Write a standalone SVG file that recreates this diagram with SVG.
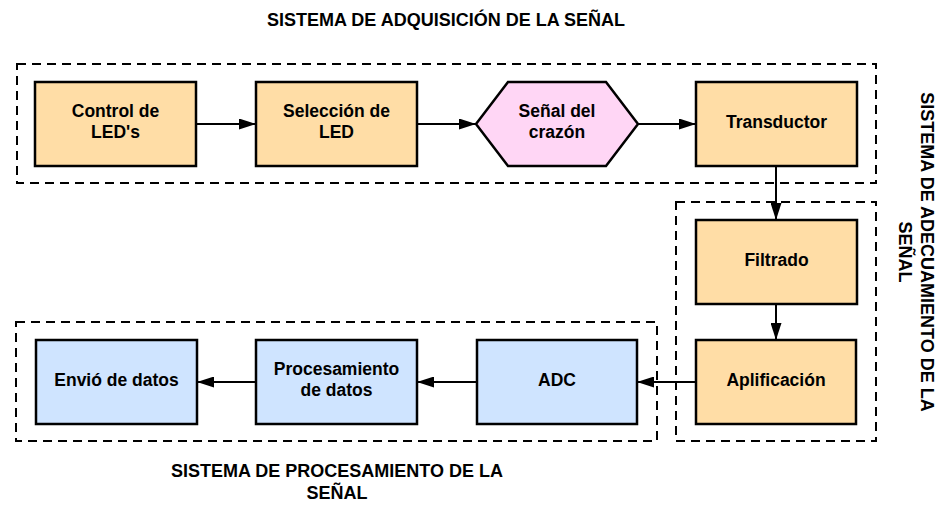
<svg xmlns="http://www.w3.org/2000/svg" width="951" height="515" viewBox="0 0 951 515">
<style>
  .grp{fill:none;stroke:#000;stroke-width:2;stroke-dasharray:9 6;}
  .box{stroke:#000;stroke-width:2.5;}
  .org{fill:#FFDDA6;}
  .blu{fill:#CFE4FF;}
  .pnk{fill:#FFD6F5;}
  text{font-family:"Liberation Sans",Arial,sans-serif;font-weight:bold;fill:#000;}
  .t{font-size:17.5px;text-anchor:middle;}
  .h{font-size:18px;text-anchor:middle;}
  .c{fill:none;stroke:#000;stroke-width:2;}
</style>
<defs>
  <marker id="ah" viewBox="0 0 17 11" refX="17" refY="5.5" markerWidth="17" markerHeight="11" markerUnits="userSpaceOnUse" orient="auto">
    <path d="M0,0 L17,5.5 L0,11 Z" fill="#000"/>
  </marker>
</defs>
<rect width="951" height="515" fill="#fff"/>

<g id="groups">
  <rect class="grp" x="17" y="64" width="859" height="119"/>
  <rect class="grp" x="676" y="202" width="200" height="239"/>
  <rect class="grp" x="16" y="322" width="641" height="119"/>
</g>

<g id="titles">
  <text class="h" x="446" y="26">SISTEMA DE ADQUISICIÓN DE LA SEÑAL</text>
  <g transform="translate(920.5,252) rotate(90)">
    <text class="h" x="0" y="0">SISTEMA DE ADECUAMIENTO DE LA</text>
    <text class="h" x="0" y="22">SEÑAL</text>
  </g>
  <text class="h" x="337" y="477">SISTEMA DE PROCESAMIENTO DE LA</text>
  <text class="h" x="337" y="499">SEÑAL</text>
</g>

<g id="connectors">
  <line class="c" x1="196" y1="124" x2="256" y2="124" marker-end="url(#ah)"/>
  <line class="c" x1="417" y1="124" x2="476" y2="124" marker-end="url(#ah)"/>
  <line class="c" x1="638" y1="124" x2="696" y2="124" marker-end="url(#ah)"/>
  <line class="c" x1="776" y1="166" x2="776" y2="220" marker-end="url(#ah)"/>
  <line class="c" x1="776" y1="304" x2="776" y2="340" marker-end="url(#ah)"/>
  <line class="c" x1="696" y1="382" x2="637" y2="382" marker-end="url(#ah)"/>
  <line class="c" x1="476" y1="382" x2="417" y2="382" marker-end="url(#ah)"/>
  <line class="c" x1="256" y1="382" x2="197" y2="382" marker-end="url(#ah)"/>
</g>

<g id="control">
  <rect class="box org" x="35" y="82" width="161" height="84"/>
  <text class="t" x="115.5" y="117">Control de</text>
  <text class="t" x="115.5" y="138">LED's</text>
</g>
<g id="seleccion">
  <rect class="box org" x="256" y="82" width="161" height="84"/>
  <text class="t" x="336.5" y="117">Selección de</text>
  <text class="t" x="336.5" y="138">LED</text>
</g>
<g id="senal">
  <polygon class="box pnk" points="476,124 508,82 606,82 638,124 606,166 508,166"/>
  <text class="t" x="557" y="117">Señal del</text>
  <text class="t" x="557" y="138">crazón</text>
</g>
<g id="transductor">
  <rect class="box org" x="696" y="82" width="161" height="84"/>
  <text class="t" x="776.5" y="127.5">Transductor</text>
</g>
<g id="filtrado">
  <rect class="box org" x="696" y="220" width="161" height="84"/>
  <text class="t" x="776.5" y="265.5">Filtrado</text>
</g>
<g id="aplificacion">
  <rect class="box org" x="696" y="340" width="160" height="84"/>
  <text class="t" x="776" y="385.5">Aplificación</text>
</g>
<g id="adc">
  <rect class="box blu" x="477" y="340" width="160" height="84"/>
  <text class="t" x="557" y="385.5">ADC</text>
</g>
<g id="procesamiento">
  <rect class="box blu" x="256" y="340" width="161" height="84"/>
  <text class="t" x="336.5" y="375">Procesamiento</text>
  <text class="t" x="336.5" y="396">de datos</text>
</g>
<g id="envio">
  <rect class="box blu" x="36" y="340" width="161" height="84"/>
  <text class="t" x="116.5" y="385.5">Envió de datos</text>
</g>
</svg>
